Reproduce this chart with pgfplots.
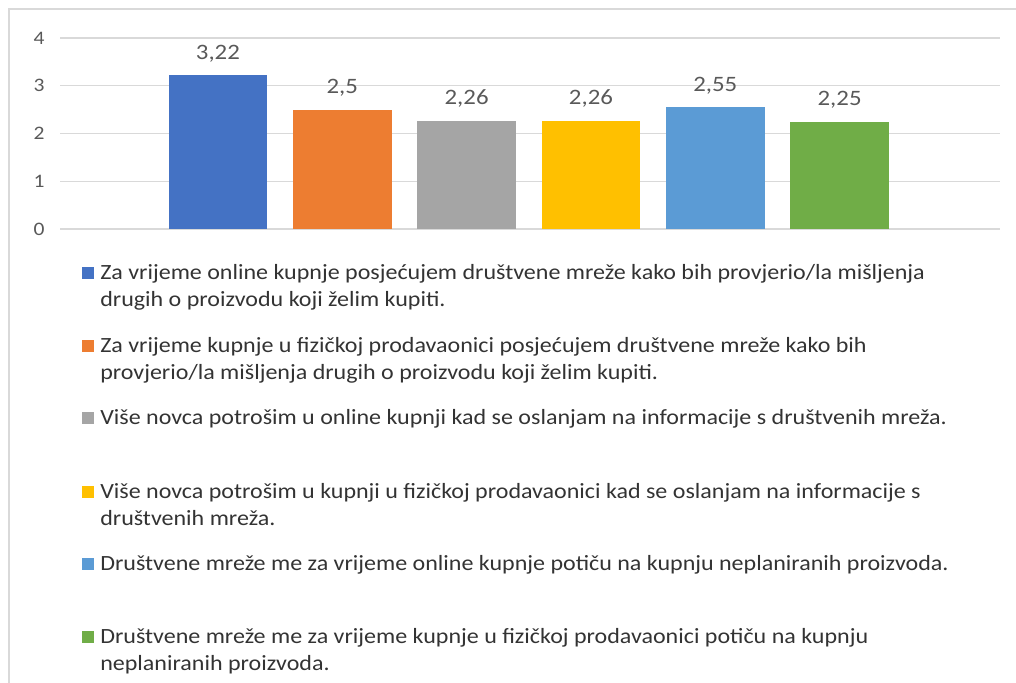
\documentclass[border=0pt]{standalone}
\usepackage{fontspec}
\setmainfont{Carlito}
\usepackage{pgfplots}
\pgfplotsset{compat=1.18}
\definecolor{cA}{HTML}{4472C4}
\definecolor{cB}{HTML}{ED7D31}
\definecolor{cC}{HTML}{A5A5A5}
\definecolor{cD}{HTML}{FFC000}
\definecolor{cE}{HTML}{5B9BD5}
\definecolor{cF}{HTML}{70AD47}
\definecolor{gridc}{HTML}{D9D9D9}
\definecolor{tickc}{HTML}{595959}
\definecolor{legc}{HTML}{333333}
\newcommand{\sx}[1]{\scalebox{1.13}[1]{#1}}
\newcommand{\lx}[1]{\scalebox{1.105}[1]{#1}}
\begin{document}
\begin{tikzpicture}
\begin{scope}[x=0.75pt,y=-0.75pt]
\path[use as bounding box] (0,0) rectangle (1016,682);
\draw[gridc, line width=1.5pt] (9,690) -- (9,9) -- (1030,9);
\end{scope}
\begin{axis}[
  at={(45pt,-171.75pt)}, anchor=south west,
  scale only axis, width=705pt, height=143.25pt,
  xmin=-0.27, xmax=7.29, ymin=0, ymax=4,
  ytick={0,1,2,3,4}, xtick=\empty,
  axis line style={draw=none},
  ymajorgrids, major grid style={gridc, line width=1.1pt},
  tick style={draw=none},
  /pgf/number format/assume math mode=true,
  /pgf/number format/fixed, /pgf/number format/precision=2, /pgf/number format/use comma,
  yticklabel={\sx{\pgfmathprintnumber{\tick}}},
  yticklabel style={font=\fontsize{14.3}{17}\selectfont, text=tickc, xshift=-8pt},
  ybar, bar width=74pt, bar shift=0pt,
  nodes near coords={\sx{\pgfmathprintnumber{\pgfplotspointmeta}}},
  nodes near coords style={font=\fontsize{16.5}{19}\selectfont, text=tickc, yshift=6.5pt},
]
\addplot[fill=cA, draw=none] coordinates {(1,3.22)};
\addplot[fill=cB, draw=none] coordinates {(2,2.5)};
\addplot[fill=cC, draw=none] coordinates {(3,2.26)};
\addplot[fill=cD, draw=none] coordinates {(4,2.26)};
\addplot[fill=cE, draw=none] coordinates {(5,2.55)};
\addplot[fill=cF, draw=none] coordinates {(6,2.25)};
\end{axis}
\begin{scope}[x=0.75pt,y=-0.75pt]
\tikzset{leg/.style={anchor=base west, inner sep=0pt, text=legc, font=\fontsize{16.3}{19}\selectfont}}
\fill[cA] (82,267) rectangle (94,279);
\node[leg] at (100,279) {\lx{Za vrijeme online kupnje posjećujem društvene mreže kako bih provjerio/la mišljenja}};
\node[leg] at (100,306) {\lx{drugih o proizvodu koji želim kupiti.}};
\fill[cB] (82,340) rectangle (94,352);
\node[leg] at (100,352) {\lx{Za vrijeme kupnje u fizičkoj prodavaonici posjećujem društvene mreže kako bih}};
\node[leg] at (100,379) {\lx{provjerio/la mišljenja drugih o proizvodu koji želim kupiti.}};
\fill[cC] (82,412) rectangle (94,424);
\node[leg] at (100,424) {\lx{Više novca potrošim u online kupnji kad se oslanjam na informacije s društvenih mreža.}};
\fill[cD] (82,486) rectangle (94,498);
\node[leg] at (100,498) {\lx{Više novca potrošim u kupnji u fizičkoj prodavaonici kad se oslanjam na informacije s}};
\node[leg] at (100,525) {\lx{društvenih mreža.}};
\fill[cE] (82,558) rectangle (94,570);
\node[leg] at (100,570) {\lx{Društvene mreže me za vrijeme online kupnje potiču na kupnju neplaniranih proizvoda.}};
\fill[cF] (82,631) rectangle (94,643);
\node[leg] at (100,643) {\lx{Društvene mreže me za vrijeme kupnje u fizičkoj prodavaonici potiču na kupnju}};
\node[leg] at (100,670) {\lx{neplaniranih proizvoda.}};
\end{scope}
\end{tikzpicture}
\end{document}
